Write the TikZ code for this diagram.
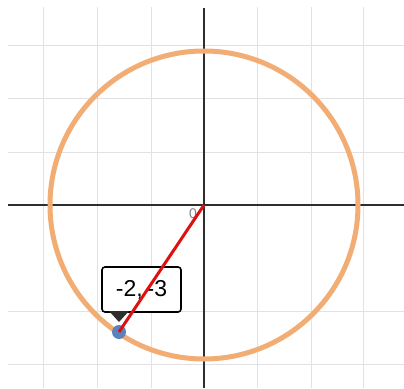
\documentclass[tikz,border=0pt]{standalone}
\usepackage{fontspec}
\setmainfont{Liberation Sans}
\usetikzlibrary{shapes.geometric}
\definecolor{gridc}{HTML}{E2E2E6}
\definecolor{axisc}{HTML}{2E2E2E}
\definecolor{circc}{HTML}{F2AD74}
\definecolor{redc}{HTML}{DD1111}
\definecolor{dotc}{HTML}{5A82BE}
\tikzset{
  gridline/.style={draw=gridc, line width=1pt},
  axisline/.style={draw=axisc, line width=2pt},
  circline/.style={draw=circc, line width=5pt},
  radius line/.style={draw=redc, line width=3pt},
  tipbox/.style={draw=black, fill=white, line width=1.6pt, rounded corners=3pt, minimum width=79pt, minimum height=45pt, inner sep=0pt, font=\fontsize{23}{23}\selectfont},
}
\begin{document}
\begin{tikzpicture}[x=1pt,y=-1pt]
\useasboundingbox[fill=white] (0,0) rectangle (404,388);
% grid
\foreach \gx in {43,97,151,257,311,363} \draw[gridline] (\gx,7) -- (\gx,388);
\foreach \gy in {45,98,152,311,364} \draw[gridline] (8,\gy) -- (404,\gy);
% axes
\coordinate (o) at (204,205);
\draw[axisline] (204,8) -- (204,388);
\draw[axisline] (8,205) -- (404,205);
\node[text=gray, font=\fontsize{14}{14}\selectfont, inner sep=0pt] (zero) at (193,214) {0};
% circle
\draw[circline] (o) circle[radius=154];
% tooltip
\node[tipbox] (tip) at (141.5,289.5) {-2,\,-3};
\fill[axisc] (109,311) -- (129,311) -- (119,322) -- cycle;
% point
\node[circle, fill=dotc, minimum size=14pt, inner sep=0pt] (p) at (119,332) {};
\draw[radius line] (o) -- (p.center);
\end{tikzpicture}
\end{document}
